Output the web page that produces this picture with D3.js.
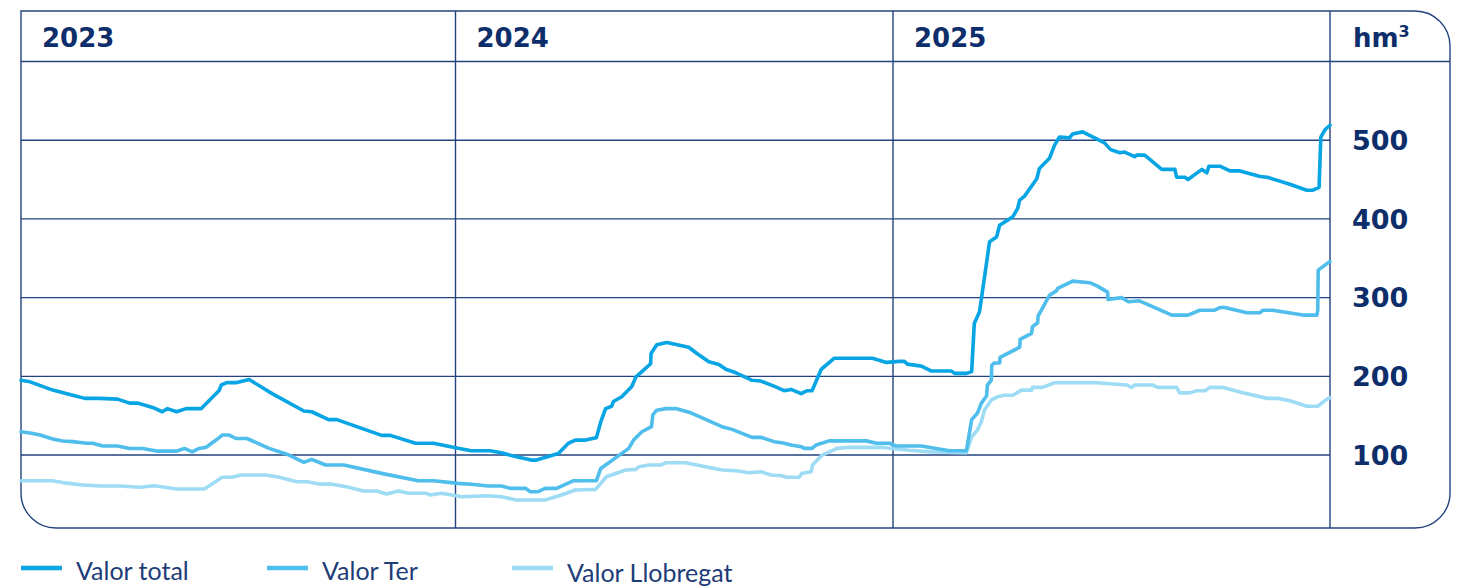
<!DOCTYPE html>
<html lang="ca">
<head>
<meta charset="utf-8">
<title>Reserves Ter-Llobregat</title>
<script src="https://d3js.org/d3.v7.min.js"></script>
<style>
  body { margin: 0; background: #fff; }
  .frame, .grid line { fill: none; stroke: #23437e; stroke-width: 1.4; }
  .year, .tick-label, .unit { font-family: "DejaVu Sans", sans-serif; font-weight: bold; fill: #0d2e6b; }
  .legend text { font-family: "Lato", sans-serif; font-size: 25px; fill: #1d3c78; }
</style>
</head>
<body>
<div id="chart"></div>
<script>
// years shown in the header row
const years = [2023, 2024, 2025];
const yTicks = [100, 200, 300, 400, 500];

// [decimal year, hm3]
const valorTotal = [
  [2023.000,195],[2023.021,193],[2023.073,182.5],[2023.119,176],[2023.147,172],[2023.181,172],
  [2023.222,171],[2023.250,166],[2023.268,166],[2023.303,160.5],[2023.325,155],[2023.337,159],
  [2023.358,155],[2023.380,159],[2023.415,159],[2023.456,182],[2023.461,189],[2023.474,192],
  [2023.495,192],[2023.525,196],[2023.578,178],[2023.651,156],[2023.669,155],[2023.708,145],
  [2023.727,145],[2023.830,125],[2023.850,125],[2023.908,115],[2023.949,115],[2024.006,108.5],
  [2024.036,105.5],[2024.079,105.5],[2024.105,103],[2024.137,98],[2024.173,93.6],[2024.185,93.6],
  [2024.235,102],[2024.258,115],[2024.274,119],[2024.297,119],[2024.322,122],[2024.332,142],
  [2024.343,159],[2024.357,162],[2024.361,168],[2024.380,174],[2024.403,187],[2024.412,199],
  [2024.426,206],[2024.446,216],[2024.447,229],[2024.460,240],[2024.483,243],[2024.533,237],
  [2024.552,229],[2024.579,218.5],[2024.602,215],[2024.618,209],[2024.641,204.5],[2024.678,195],
  [2024.698,194],[2024.728,187.6],[2024.751,181.7],[2024.767,183.4],[2024.790,178],[2024.804,181.7],
  [2024.815,181.7],[2024.836,209],[2024.866,223],[2024.953,223],[2024.985,217.7],[2025.015,219],
  [2025.026,219],[2025.033,215.5],[2025.065,213],[2025.088,206.7],[2025.134,206.7],[2025.141,203.7],
  [2025.168,203.7],[2025.180,206],[2025.186,267],[2025.198,282],[2025.221,371],[2025.237,377],
  [2025.244,392],[2025.274,402.6],[2025.285,413],[2025.290,424],[2025.301,429],[2025.329,451],
  [2025.335,464],[2025.358,477],[2025.370,494],[2025.381,504],[2025.404,503],[2025.411,508],
  [2025.434,510.6],[2025.484,496.6],[2025.498,488],[2025.519,484],[2025.530,485],[2025.553,479],
  [2025.558,481],[2025.576,481],[2025.615,463],[2025.645,463],[2025.649,453],[2025.668,453],
  [2025.675,450],[2025.707,463],[2025.718,458.5],[2025.723,467],[2025.748,467],[2025.771,461],
  [2025.794,461],[2025.840,454],[2025.856,453],[2025.885,448],[2025.908,444],[2025.947,436.5],
  [2025.961,436.5],[2025.975,440],[2025.979,504],[2025.989,513.6],[2026.000,519]
];

const valorTer = [
  [2023.000,129.6],[2023.021,128],[2023.044,125.4],[2023.073,120.3],[2023.096,117.8],[2023.119,117],
  [2023.151,115],[2023.165,115],[2023.188,111.4],[2023.222,111.4],[2023.250,108.4],[2023.280,108.4],
  [2023.312,105],[2023.358,105],[2023.376,108.4],[2023.394,104],[2023.410,108.4],[2023.426,110],
  [2023.449,119],[2023.463,125.4],[2023.479,125.4],[2023.495,121],[2023.520,121],[2023.571,108.5],
  [2023.617,100],[2023.651,90.7],[2023.669,94.5],[2023.701,87.3],[2023.743,87.3],[2023.830,76.7],
  [2023.914,67.4],[2023.949,67.4],[2024.006,64],[2024.036,62.8],[2024.075,60.6],[2024.105,60.6],
  [2024.125,57.7],[2024.160,57.7],[2024.171,53.4],[2024.189,53.4],[2024.205,57.7],[2024.231,57.7],
  [2024.270,67.4],[2024.322,67.4],[2024.332,83],[2024.396,108.5],[2024.407,119],[2024.426,129.6],
  [2024.448,136],[2024.451,151],[2024.460,157],[2024.481,159],[2024.503,159],[2024.538,153.7],
  [2024.609,136],[2024.632,132.6],[2024.678,122.5],[2024.698,122.5],[2024.728,117],[2024.746,115.7],
  [2024.767,112.7],[2024.790,110.6],[2024.797,108.5],[2024.815,108.5],[2024.824,112.7],[2024.854,118],
  [2024.939,118],[2024.962,115],[2024.992,115],[2025.008,111.4],[2025.065,111.4],[2025.129,105.5],
  [2025.168,105.5],[2025.180,145],[2025.193,153],[2025.202,165.6],[2025.214,175],[2025.216,189],
  [2025.225,195],[2025.226,214],[2025.232,217],[2025.244,217],[2025.245,224],[2025.290,237],
  [2025.291,247],[2025.317,254.5],[2025.319,263],[2025.331,268],[2025.332,276.5],[2025.358,303],
  [2025.374,308.6],[2025.377,311.7],[2025.411,321],[2025.450,319],[2025.468,314.6],[2025.491,307],
  [2025.492,297.7],[2025.523,300],[2025.539,294.7],[2025.564,296],[2025.638,277.8],[2025.675,277.8],
  [2025.702,284],[2025.736,284],[2025.748,287.4],[2025.759,287.4],[2025.810,280.7],[2025.840,280.7],
  [2025.846,284],[2025.869,284],[2025.938,277.8],[2025.970,277.8],[2025.972,284],[2025.973,335],
  [2026.000,346]
];

const valorLlobregat = [
  [2023.000,67.4],[2023.071,67.4],[2023.096,65],[2023.142,62],[2023.181,60.6],[2023.227,60.6],
  [2023.273,59],[2023.307,61],[2023.358,56.8],[2023.422,56.8],[2023.463,71.7],[2023.486,71.7],
  [2023.506,74.6],[2023.564,74.6],[2023.594,71.7],[2023.635,66],[2023.658,66],[2023.690,63],
  [2023.715,63],[2023.749,59.8],[2023.788,54.3],[2023.818,54.3],[2023.841,50.5],[2023.869,54.3],
  [2023.892,51.4],[2023.933,51.4],[2023.942,49.2],[2023.967,51.4],[2024.006,48],[2024.013,47],
  [2024.075,48.3],[2024.105,47],[2024.139,42.9],[2024.205,42.9],[2024.242,49.2],[2024.274,55.6],
  [2024.320,56.4],[2024.345,72.4],[2024.389,81],[2024.412,81.8],[2024.419,85],[2024.442,87.3],
  [2024.469,87.3],[2024.481,90.2],[2024.526,90.2],[2024.563,86],[2024.609,81],[2024.641,80],
  [2024.671,77.5],[2024.698,78.8],[2024.721,74.6],[2024.746,73.7],[2024.756,71.7],[2024.785,71.7],
  [2024.792,76.7],[2024.813,78.8],[2024.816,87.3],[2024.838,100],[2024.872,108.5],[2024.900,109.8],
  [2024.976,109.8],[2025.000,108],[2025.037,106],[2025.088,104],[2025.168,103],[2025.180,123],
  [2025.193,131.7],[2025.202,142],[2025.209,157],[2025.225,170],[2025.239,174],[2025.255,176],
  [2025.274,176],[2025.294,182.5],[2025.317,182.5],[2025.319,186],[2025.342,186],[2025.370,191.8],
  [2025.466,191.8],[2025.535,189],[2025.546,186],[2025.553,189],[2025.594,189],[2025.606,186],
  [2025.649,186],[2025.656,179],[2025.679,179],[2025.695,181.7],[2025.714,181.7],[2025.725,186],
  [2025.753,186],[2025.801,179],[2025.856,172],[2025.881,172],[2025.908,169],[2025.947,162],
  [2025.972,162],[2025.993,171],[2026.000,173]
];

const seriesNames = ["Valor total", "Valor Ter", "Valor Llobregat"];
const seriesColors = ["#08a5e4", "#4fbeec", "#9edcf5"];

const width = 1459;
const height = 587;
const boxLeft = 21, boxTop = 11, boxRight = 1450, boxBottom = 528, plotRight = 1330;
const headerY = 61.5;
const r = 35;

const x = d3.scaleLinear()
  .domain([2023, 2024, 2025, 2026])
  .range([boxLeft, 455.5, 893, plotRight]);
const y = d3.scaleLinear().domain([0, 600]).range([533.75, headerY]);

const svg = d3.select("#chart").append("svg")
  .attr("width", width)
  .attr("height", height);

// gridlines
const grid = svg.append("g").attr("class", "grid");
grid.selectAll("line.h")
  .data(yTicks)
  .enter().append("line")
  .attr("class", "h")
  .attr("x1", boxLeft).attr("x2", plotRight)
  .attr("y1", d => y(d)).attr("y2", d => y(d));

grid.selectAll("line.v")
  .data(years.slice(1).concat([2026]))
  .enter().append("line")
  .attr("class", "v")
  .attr("x1", d => x(d)).attr("x2", d => x(d))
  .attr("y1", boxTop).attr("y2", boxBottom);

grid.append("line")
  .attr("x1", boxLeft).attr("x2", boxRight)
  .attr("y1", headerY).attr("y2", headerY);

// frame: square top-left, rounded elsewhere
const p = d3.path();
p.moveTo(boxLeft, boxTop);
p.lineTo(boxRight - r, boxTop);
p.arcTo(boxRight, boxTop, boxRight, boxTop + r, r);
p.lineTo(boxRight, boxBottom - r);
p.arcTo(boxRight, boxBottom, boxRight - r, boxBottom, r);
p.lineTo(boxLeft + r, boxBottom);
p.arcTo(boxLeft, boxBottom, boxLeft, boxBottom - r, r);
p.closePath();
svg.append("path").attr("class", "frame").attr("d", p.toString());

// header
svg.selectAll("text.year")
  .data(years)
  .enter().append("text")
  .attr("class", "year")
  .attr("x", d => x(d) + 21)
  .attr("y", 47)
  .attr("font-size", 26)
  .text(d => d);

const unit = svg.append("text")
  .attr("class", "unit")
  .attr("x", 1353)
  .attr("y", 47)
  .attr("font-size", 26)
  .text("hm");
unit.append("tspan").attr("font-size", 16).attr("dy", -10).text("3");

svg.selectAll("text.tick-label")
  .data(yTicks)
  .enter().append("text")
  .attr("class", "tick-label")
  .attr("x", 1352)
  .attr("y", d => y(d))
  .attr("dy", "0.36em")
  .attr("font-size", 27)
  .text(d => d);

// lines
const line = d3.line()
  .x(d => x(d[0]))
  .y(d => y(d[1]));

const allSeries = [valorTotal, valorTer, valorLlobregat];
svg.append("g")
  .selectAll("path")
  .data([2, 1, 0])
  .enter().append("path")
  .attr("d", i => line(allSeries[i]))
  .attr("fill", "none")
  .attr("stroke", i => seriesColors[i])
  .attr("stroke-width", 3.6)
  .attr("stroke-linejoin", "round")
  .attr("stroke-linecap", "round");

// legend
const legendX = [21, 267, 512];
const legend = svg.append("g").attr("class", "legend");
const item = legend.selectAll("g")
  .data(seriesNames)
  .enter().append("g")
  .attr("transform", (d, i) => `translate(${legendX[i]},568)`);
item.append("line")
  .attr("x1", 0).attr("x2", 41)
  .attr("stroke", (d, i) => seriesColors[i])
  .attr("stroke-width", 4.5);
item.append("text")
  .attr("x", 55)
  .attr("y", (d, i) => i === 2 ? 14 : 12)
  .text(d => d);
</script>
</body>
</html>
